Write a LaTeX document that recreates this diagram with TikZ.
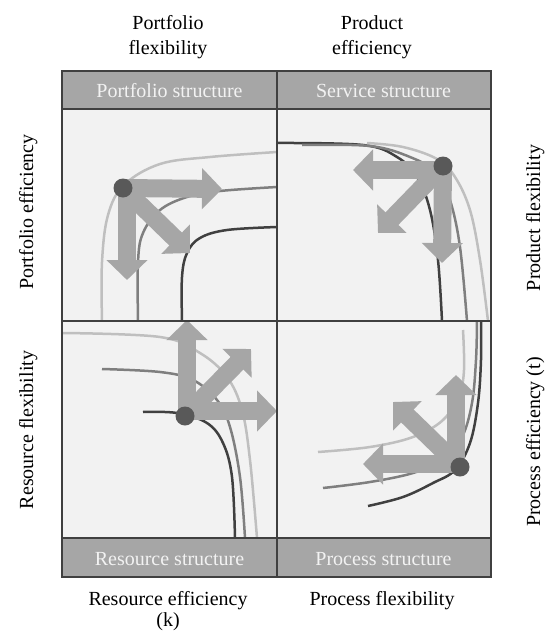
\documentclass[tikz,border=0pt]{standalone}
\usepackage{fontspec}
\setmainfont{Liberation Serif}
\usetikzlibrary{arrows.meta}
\definecolor{bandgray}{HTML}{A6A6A6}
\definecolor{panelgray}{HTML}{F2F2F2}
\definecolor{framegray}{HTML}{404040}
\definecolor{arrowgray}{HTML}{A6A6A6}
\definecolor{dotgray}{HTML}{595959}
\definecolor{clight}{HTML}{BFBFBF}
\definecolor{cmid}{HTML}{7F7F7F}
\definecolor{cdark}{HTML}{404040}
\definecolor{hdrtext}{HTML}{F2F2F2}
\tikzset{
  lbl/.style={font=\fontsize{20}{24}\selectfont, inner sep=0pt, anchor=base, text=black},
  hdr/.style={font=\fontsize{20}{24}\selectfont, inner sep=0pt, anchor=base, text=hdrtext},
  band/.style={fill=bandgray, draw=framegray, line width=1.5pt},
  panel/.style={fill=panelgray, draw=framegray, line width=1.5pt},
  curvelight/.style={draw=clight, line width=2.5pt},
  curvemid/.style={draw=cmid, line width=2.5pt},
  curvedark/.style={draw=cdark, line width=2.5pt},
  bigarrow/.style={draw=arrowgray, line width=18pt, -{Triangle[width=40pt,length=20pt]}},
  dotnode/.style={circle, fill=dotgray, minimum size=19pt, inner sep=0pt},
}
\begin{document}
\begin{tikzpicture}[x=1pt,y=-1pt]
\useasboundingbox (0,0) rectangle (545,632);
% panels
\fill[panelgray] (62,109) rectangle (491,538);
% ---- curves TL
\draw[curvelight] plot[smooth, tension=0.6] coordinates {(102,321) (102,262) (108,215) (124,185) (160,164) (210,157) (277,152)};
\draw[curvemid] plot[smooth, tension=0.6] coordinates {(138,321) (138,262) (143,233) (160,210) (187,197) (220,191) (277,187)};
\draw[curvedark] plot[smooth, tension=0.6] coordinates {(182,321) (182,277) (187,253) (200,238) (227,230) (277,227)};
% ---- curves TR
\draw[curvedark] plot[smooth, tension=0.6] coordinates {(277,143) (363,145) (397,157) (417,177) (430,210) (438,260) (442,321)};
\draw[curvemid] plot[smooth, tension=0.6] coordinates {(302,145) (370,146) (410,157) (437,173) (450,200) (460,247) (467,321)};
\draw[curvelight] plot[smooth, tension=0.6] coordinates {(367,143) (403,147) (437,159) (455,177) (470,210) (480,260) (488,321)};
% ---- curves BL
\draw[curvelight] plot[smooth, tension=0.6] coordinates {(63,333) (160,337) (200,353) (227,377) (242,410) (250,460) (257,538)};
\draw[curvemid] plot[smooth, tension=0.6] coordinates {(102,369) (160,372) (193,380) (217,400) (230,427) (240,477) (245,538)};
\draw[curvedark] plot[smooth, tension=0.6] coordinates {(143,412) (177,413) (207,423) (223,443) (232,477) (235,538)};
% ---- curves BR
\draw[curvelight] plot[smooth, tension=0.6] coordinates {(318,452) (370,447) (413,437) (443,420) (459,395) (464,370) (463,330)};
\draw[curvemid] plot[smooth, tension=0.6] coordinates {(323,488) (370,482) (413,473) (443,460) (462,437) (472,403) (476,360) (477,321)};
\draw[curvedark] plot[smooth, tension=0.6] coordinates {(368,506) (403,497) (433,483) (455,470) (470,443) (478,403) (481,360) (481,321)};
% ---- dot positions and arrow tips
\coordinate (dTL) at (123,188);
\coordinate (dTR) at (443,166);
\coordinate (dBL) at (185,416);
\coordinate (dBR) at (460,467);
\coordinate (tTLr) at (222,189);
\coordinate (tTLd) at (127,280);
\coordinate (tTLx) at (190,253);
\coordinate (sTLd) at (127,188);
\coordinate (tTRl) at (353,170);
\coordinate (sTRl) at (443,170);
\coordinate (tTRd) at (442,263);
\coordinate (tTRx) at (378,233);
\coordinate (tBLu) at (187,320);
\coordinate (sBLu) at (187,416);
\coordinate (tBLr) at (277,411);
\coordinate (sBLr) at (185,411);
\coordinate (tBLx) at (251,349);
\coordinate (tBRu) at (456,375);
\coordinate (sBRu) at (456,467);
\coordinate (tBRl) at (363,464);
\coordinate (sBRl) at (460,464);
\coordinate (tBRx) at (393,402);
% arrows
\draw[bigarrow] (dTL) -- (tTLr);
\draw[bigarrow] (sTLd) -- (tTLd);
\draw[bigarrow] (dTL) -- (tTLx);
\draw[bigarrow] (sTRl) -- (tTRl);
\draw[bigarrow] (dTR) -- (tTRd);
\draw[bigarrow] (dTR) -- (tTRx);
\draw[bigarrow] (sBLu) -- (tBLu);
\draw[bigarrow] (sBLr) -- (tBLr);
\draw[bigarrow] (dBL) -- (tBLx);
\draw[bigarrow] (sBRu) -- (tBRu);
\draw[bigarrow] (sBRl) -- (tBRl);
\draw[bigarrow] (dBR) -- (tBRx);
% dots
\node[dotnode] (nTL) at (dTL) {};
\node[dotnode] (nTR) at (dTR) {};
\node[dotnode] (nBL) at (dBL) {};
\node[dotnode] (nBR) at (dBR) {};
% bands and frame
\draw[band] (62,71) rectangle (277,109);
\draw[band] (277,71) rectangle (491,109);
\draw[band] (62,538) rectangle (277,577);
\draw[band] (277,538) rectangle (491,577);
\draw[framegray, line width=1.5pt] (62,109) rectangle (491,538);
\draw[framegray, line width=1.5pt] (277,109) -- (277,538);
\draw[framegray, line width=1.5pt] (62,321) -- (491,321);
% band texts
\node[hdr] (hPS) at (169.5,97) {Portfolio structure};
\node[hdr] (hSS) at (383.5,97) {Service structure};
\node[hdr] (hRS) at (169.5,565) {Resource structure};
\node[hdr] (hPrS) at (383.5,565) {Process structure};
% outer labels
\node[lbl] (tPF1) at (168,29.5) {Portfolio};
\node[lbl] (tPF2) at (168,54) {flexibility};
\node[lbl] (tPE1) at (372,29.5) {Product};
\node[lbl] (tPE2) at (372,54) {efficiency};
\node[lbl] (bRE1) at (168,605) {Resource efficiency};
\node[lbl] (bRE2) at (168,626) {(k)};
\node[lbl] (bPF) at (382,605) {Process flexibility};
\node[lbl, rotate=90] (lPE) at (33,212) {Portfolio efficiency};
\node[lbl, rotate=90] (lRF) at (33,430) {Resource flexibility};
\node[lbl, rotate=90] (rPF) at (540,218) {Product flexibility};
\node[lbl, rotate=90] (rPE) at (540,442) {Process efficiency (t)};
\end{tikzpicture}
\end{document}
